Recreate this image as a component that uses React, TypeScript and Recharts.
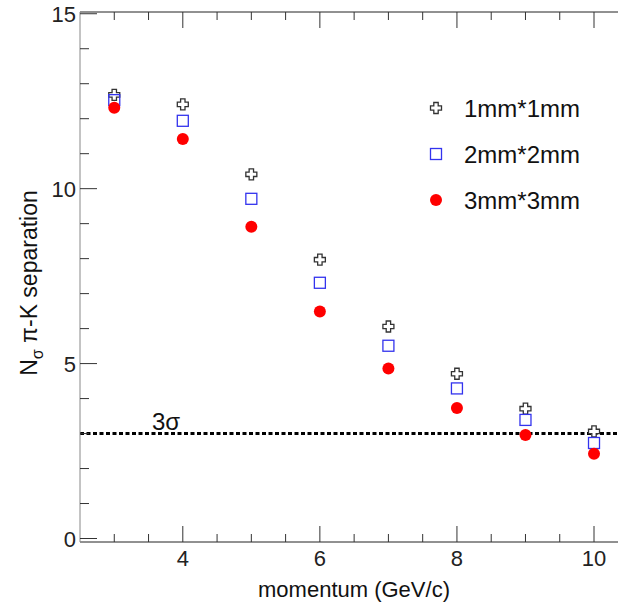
import {
  ScatterChart,
  Scatter,
  XAxis,
  YAxis,
  ReferenceLine,
} from "recharts";

const momentum = [3, 4, 5, 6, 7, 8, 9, 10];
const sep1mm = [12.68, 12.41, 10.41, 7.97, 6.06, 4.71, 3.71, 3.06];
const sep2mm = [12.53, 11.94, 9.71, 7.31, 5.51, 4.29, 3.39, 2.73];
const sep3mm = [12.31, 11.42, 8.91, 6.49, 4.86, 3.73, 2.96, 2.42];
const seriesNames = ["1mm*1mm", "2mm*2mm", "3mm*3mm"];

const xTicks = [3, 3.5, 4, 4.5, 5, 5.5, 6, 6.5, 7, 7.5, 8, 8.5, 9, 9.5, 10];
const xLabels = [4, 6, 8, 10];
const yTicks = [0, 1, 2, 3, 4, 5, 6, 7, 8, 9, 10, 11, 12, 13, 14, 15];
const yLabels = [0, 5, 10, 15];

const toPoints = (vals: number[]) => momentum.map((x, i) => ({ x, y: vals[i] }));
const data1 = toPoints(sep1mm);
const data2 = toPoints(sep2mm);
const data3 = toPoints(sep3mm);

const FONT = "Liberation Sans, Arial, sans-serif";

const Cross = ({ cx, cy }: any) => {
  const a = 2.2;
  const b = 5.5;
  const d = `M${cx - a},${cy - b} H${cx + a} V${cy - a} H${cx + b} V${cy + a} H${cx + a} V${cy + b} H${cx - a} V${cy + a} H${cx - b} V${cy - a} H${cx - a} Z`;
  return <path d={d} fill="#fff" stroke="#333" strokeWidth={1.3} />;
};

const Square = ({ cx, cy }: any) => (
  <rect x={cx - 5.5} y={cy - 5.5} width={11} height={11} fill="none" stroke="#3333ee" strokeWidth={1.3} />
);

const Dot = ({ cx, cy }: any) => <circle cx={cx} cy={cy} r={6} fill="#ff0000" />;

// ticks drawn inside the frame, like the ROOT style
const BottomTick = ({ x, y, payload }: any) => {
  const major = xLabels.includes(payload.value);
  return (
    <g>
      <line x1={x} x2={x} y1={y} y2={y - (major ? 16 : 8)} stroke="#333" />
      {major && (
        <text x={x} y={y + 24} textAnchor="middle" fontSize={22} fontFamily={FONT} fill="#222">
          {payload.value}
        </text>
      )}
    </g>
  );
};

const TopTick = ({ x, y, payload }: any) => {
  const major = xLabels.includes(payload.value);
  return <line x1={x} x2={x} y1={y} y2={y + (major ? 16 : 8)} stroke="#333" />;
};

const LeftTick = ({ x, y, payload }: any) => {
  const major = yLabels.includes(payload.value);
  return (
    <g>
      <line x1={x} x2={x + (major ? 17 : 9)} y1={y} y2={y} stroke="#333" />
      {major && (
        <text x={x - 4} y={y + 8} textAnchor="end" fontSize={22} fontFamily={FONT} fill="#222">
          {payload.value}
        </text>
      )}
    </g>
  );
};

const RightTick = ({ x, y, payload }: any) => {
  const major = yLabels.includes(payload.value);
  return <line x1={x} x2={x - (major ? 17 : 9)} y1={y} y2={y} stroke="#333" />;
};

const LegendBox = () => {
  const markers = [Cross, Square, Dot];
  return (
    <svg width={200} height={140}>
      {seriesNames.map((name, i) => {
        const M = markers[i];
        const cy = 19 + i * 46;
        return (
          <g key={name}>
            <M cx={16} cy={cy} />
            <text x={44} y={cy + 8.5} fontSize={24} fontFamily={FONT} fill="#111">
              {name}
            </text>
          </g>
        );
      })}
    </svg>
  );
};

const SigmaLabel = ({ viewBox }: any) => (
  <text x={viewBox.x + 72} y={viewBox.y - 4} fontSize={24} fontFamily={FONT} fill="#111">
    3σ
  </text>
);

export default function App() {
  return (
    <div style={{ position: "absolute", left: 0, top: 0, width: 618, height: 606, background: "#fff" }}>
      <ScatterChart width={618} height={606} margin={{ top: 11, right: 0, bottom: 0, left: 0 }}>
        <XAxis
          xAxisId="b"
          dataKey="x"
          type="number"
          domain={[2.5, 10.35]}
          ticks={xTicks}
          tick={<BottomTick />}
          tickLine={false}
          tickSize={0}
          tickMargin={0}
          height={64}
          stroke="#222"
          allowDataOverflow
        />
        <XAxis
          xAxisId="t"
          orientation="top"
          dataKey="x"
          type="number"
          domain={[2.5, 10.35]}
          ticks={xTicks}
          tick={<TopTick />}
          tickLine={false}
          tickSize={0}
          tickMargin={0}
          height={1}
          stroke="#222"
          allowDataOverflow
        />
        <YAxis
          yAxisId="l"
          dataKey="y"
          type="number"
          domain={[-0.1, 15.05]}
          ticks={yTicks}
          tick={<LeftTick />}
          tickLine={false}
          tickSize={0}
          tickMargin={0}
          width={80}
          stroke="#888"
          allowDataOverflow
        />
        <YAxis
          yAxisId="r"
          orientation="right"
          dataKey="y"
          type="number"
          domain={[-0.1, 15.05]}
          ticks={yTicks}
          tick={<RightTick />}
          tickLine={false}
          axisLine={false}
          tickSize={0}
          tickMargin={0}
          width={0}
          allowDataOverflow
        />
        <ReferenceLine
          xAxisId="b"
          yAxisId="l"
          y={3}
          stroke="#000"
          strokeWidth={3}
          strokeDasharray="4 2.5"
          label={<SigmaLabel />}
        />
        <Scatter xAxisId="b" yAxisId="l" name={seriesNames[0]} data={data1} shape={<Cross />} isAnimationActive={false} />
        <Scatter xAxisId="b" yAxisId="l" name={seriesNames[1]} data={data2} shape={<Square />} isAnimationActive={false} />
        <Scatter xAxisId="b" yAxisId="l" name={seriesNames[2]} data={data3} shape={<Dot />} isAnimationActive={false} />
        <text x={354} y={597} textAnchor="middle" fontSize={22} fontFamily={FONT} fill="#111">
          momentum (GeV/c)
        </text>
        <text
          transform="translate(37, 283) rotate(-90)"
          textAnchor="middle"
          fontSize={23}
          fontFamily={FONT}
          fill="#111"
        >
          N<tspan fontSize={16} dy={6}>σ</tspan>
          <tspan dy={-6}> π-K separation</tspan>
        </text>
      </ScatterChart>
      <div style={{ position: "absolute", left: 420, top: 89 }}>
        <LegendBox />
      </div>
    </div>
  );
}
